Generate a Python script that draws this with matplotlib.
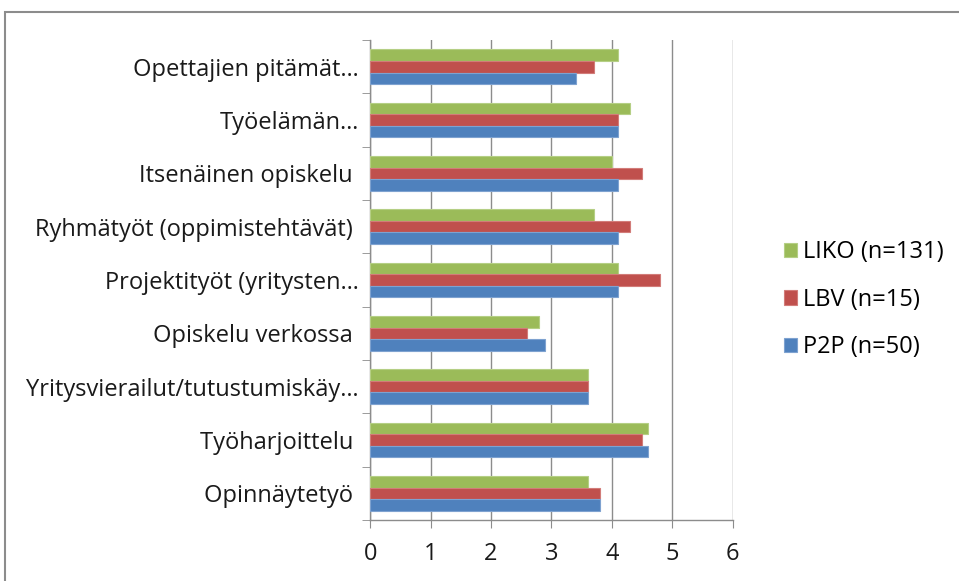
import numpy as np
import matplotlib.pyplot as plt
from matplotlib.patches import Rectangle

# Kategoriat ylhäältä alas
categories = ['Opettajien pitämät…', 'Työelämän…', 'Itsenäinen opiskelu ',
              'Ryhmätyöt (oppimistehtävät) ', 'Projektityöt (yritysten…',
              'Opiskelu verkossa ', 'Yritysvierailut/tutustumiskäy…',
              'Työharjoittelu ', 'Opinnäytetyö ']

liko = [4.1, 4.3, 4.0, 3.7, 4.1, 2.8, 3.6, 4.6, 3.6]
lbv = [3.7, 4.1, 4.5, 4.3, 4.8, 2.6, 3.6, 4.5, 3.8]
p2p = [3.4, 4.1, 4.1, 4.1, 4.1, 2.9, 3.6, 4.6, 3.8]

series_names = ['LIKO (n=131)', 'LBV (n=15)', 'P2P (n=50)']
colors = ['#9BBB59', '#C0504D', '#4F81BD']
edges = ['#B5CF85', '#D27C79', '#7EA2D0']

plt.rcParams['font.family'] = ['Open Sans', 'DejaVu Sans']

fig = plt.figure(figsize=(9.59, 5.81), dpi=100)
ax = fig.add_axes([0.386, 0.105, 0.378, 0.826])

n = len(categories)
y = np.arange(n)[::-1]
h = 0.216

handles = []
for i, vals in enumerate([liko, lbv, p2p]):
    b = ax.barh(y + h * (1 - i), vals, height=h, color=colors[i],
                edgecolor=edges[i], linewidth=0.8, label=series_names[i], zorder=3)
    handles.append(b)

ax.set_xlim(0, 6)
ax.set_ylim(-0.5, n - 0.5)
ax.set_xticks(range(7))
ax.set_yticks(y)
ax.set_yticklabels(categories)
ax.set_yticks(np.arange(-0.5, n, 1), minor=True)

ax.grid(axis='x', color='#8C8C8C', linewidth=1, zorder=0)
for s in ['top', 'right']:
    ax.spines[s].set_visible(False)
for s in ['left', 'bottom']:
    ax.spines[s].set_color('#8C8C8C')
    ax.spines[s].set_linewidth(1)

ax.tick_params(axis='y', which='major', length=0, pad=8, labelsize=17, labelcolor='#1a1a1a')
ax.tick_params(axis='y', which='minor', length=6, color='#8C8C8C', direction='out')
ax.tick_params(axis='x', length=6, color='#8C8C8C', direction='out', pad=10,
               labelsize=17, labelcolor='#1a1a1a')

leg = fig.legend(handles=handles, loc='center left', bbox_to_anchor=(0.818, 0.484),
                 frameon=False, fontsize=17, handlelength=0.55, handleheight=0.55,
                 handletextpad=0.25, labelspacing=1.0, borderaxespad=0, borderpad=0)

# kehys kaavion ympärillä
fig.patches.append(Rectangle((5 / 959, -0.05), 1.2, 1 - 12 / 581 + 0.05,
                             transform=fig.transFigure, fill=False,
                             edgecolor='#8C8C8C', linewidth=1.5))

fig.savefig('out.png', dpi=100)
